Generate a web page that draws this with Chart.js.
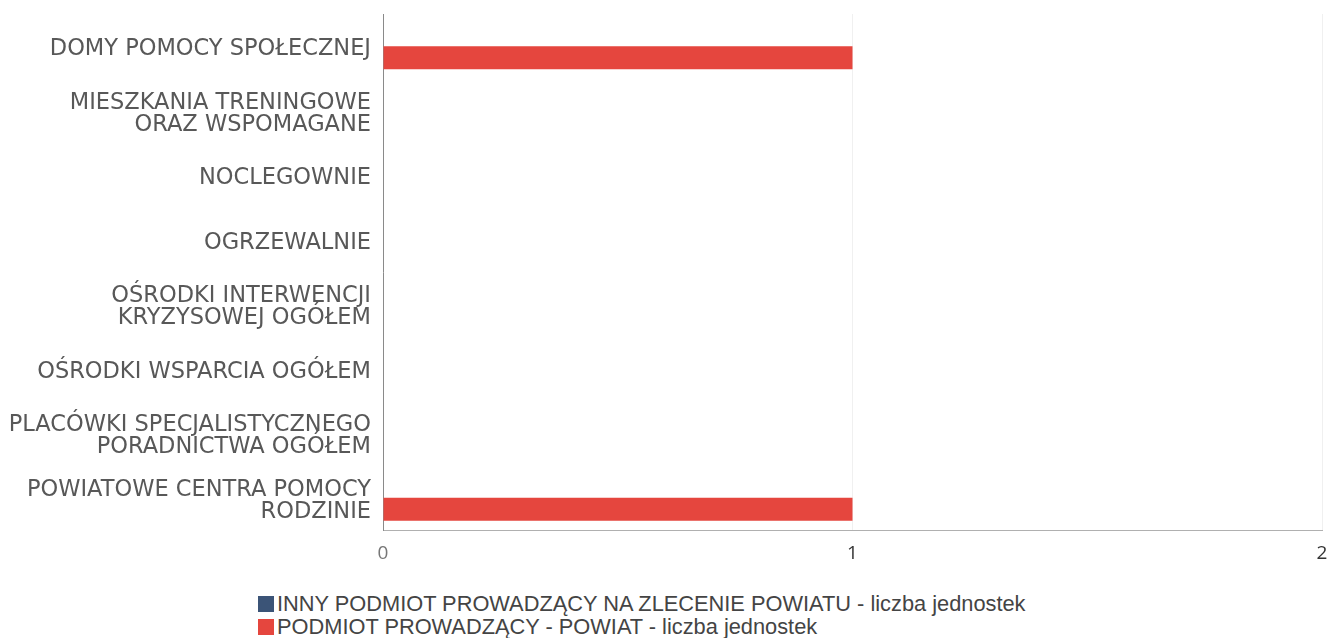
<!DOCTYPE html>
<html>
<head>
<meta charset="utf-8">
<script src="https://cdn.jsdelivr.net/npm/chart.js@4.4.1/dist/chart.umd.min.js"></script>
<style>
  html, body { margin: 0; padding: 0; background: #fff; }
  #wrap { position: relative; width: 1341px; height: 578px; }
  #legend { position: absolute; left: 258px; top: 592px; font-family: "Liberation Sans", Arial, sans-serif; font-size: 21.8px; color: #444; line-height: 23px; }
  .li { display: flex; align-items: center; }
  .sw { width: 16px; height: 16px; margin-right: 3px; display: inline-block; }
</style>
</head>
<body>
<div id="wrap"><canvas id="c"></canvas></div>
<div id="legend"></div>
<script>
const categories = [
  "DOMY POMOCY SPOŁECZNEJ",
  ["MIESZKANIA TRENINGOWE", "ORAZ WSPOMAGANE"],
  "NOCLEGOWNIE",
  "OGRZEWALNIE",
  ["OŚRODKI INTERWENCJI", "KRYZYSOWEJ OGÓŁEM"],
  "OŚRODKI WSPARCIA OGÓŁEM",
  ["PLACÓWKI SPECJALISTYCZNEGO", "PORADNICTWA OGÓŁEM"],
  ["POWIATOWE CENTRA POMOCY", "RODZINIE"]
];
const seriesNames = [
  "INNY PODMIOT PROWADZĄCY NA ZLECENIE POWIATU - liczba jednostek",
  "PODMIOT PROWADZĄCY - POWIAT - liczba jednostek"
];
const innyValues = [0, 0, 0, 0, 0, 0, 0, 0];
const powiatValues = [1, 0, 0, 0, 0, 0, 0, 1];
const seriesColors = ["#3b5477", "#e5463e"];
const xTicks = [0, 1, 2];

const ctx = document.getElementById('c');
new Chart(ctx, {
  type: 'bar',
  data: {
    labels: categories,
    datasets: [
      { label: seriesNames[0], data: innyValues, backgroundColor: seriesColors[0] },
      { label: seriesNames[1], data: powiatValues, backgroundColor: seriesColors[1] }
    ]
  },
  options: {
    indexAxis: 'y',
    responsive: true,
    maintainAspectRatio: false,
    animation: false,
    categoryPercentage: 0.71,
    barPercentage: 1.0,
    layout: { padding: { top: 14, right: 19, left: 0, bottom: 0 } },
    plugins: { legend: { display: false }, tooltip: { enabled: false } },
    scales: {
      x: {
        min: xTicks[0], max: xTicks[xTicks.length - 1],
        afterBuildTicks: (s) => { s.ticks = xTicks.map(v => ({ value: v })); },
        afterFit: (s) => { s.height = 48; s.paddingLeft = 0; s.paddingRight = 0; },
        grid: { color: '#f0f0f0', drawTicks: false },
        border: { color: '#b0b0b0', width: 1 },
        ticks: {
          padding: 12,
          font: { family: '"Open Sans", sans-serif', size: 19 },
          color: (c) => c.index === 0 ? '#777' : '#333'
        }
      },
      y: {
        afterFit: (s) => { s.width = 383; s.paddingTop = 0; s.paddingBottom = 0; },
        grid: { display: false, drawTicks: false },
        border: { color: '#8a8a8a', width: 1 },
        ticks: {
          padding: 12,
          labelOffset: 3,
          font: { family: '"DejaVu Sans", sans-serif', size: 22.5, lineHeight: 0.98 },
          color: '#585858'
        }
      }
    }
  }
});

const lg = document.getElementById('legend');
seriesNames.forEach((n, i) => {
  const d = document.createElement('div'); d.className = 'li';
  const s = document.createElement('span'); s.className = 'sw'; s.style.background = seriesColors[i];
  d.appendChild(s); d.appendChild(document.createTextNode(n)); lg.appendChild(d);
});
</script>
</body>
</html>
